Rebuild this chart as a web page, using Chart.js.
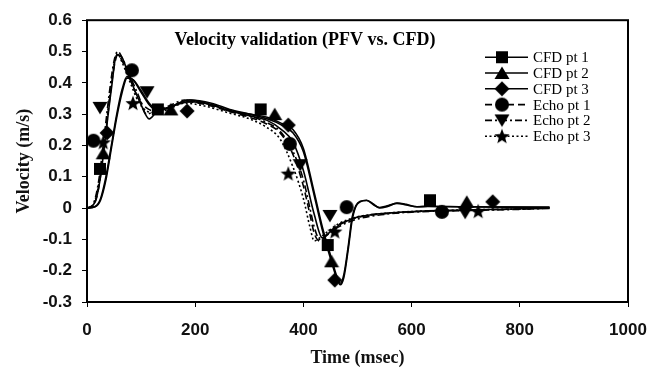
<!DOCTYPE html>
<html>
<head>
<meta charset="utf-8">
<title>Velocity validation (PFV vs. CFD)</title>
<script src="https://cdn.jsdelivr.net/npm/chart.js@4.4.0/dist/chart.umd.min.js"></script>
<style>
  html, body { margin: 0; padding: 0; background: #fff; }
  #wrap { width: 661px; height: 370px; }
</style>
</head>
<body>
<div id="wrap"><canvas id="velChart" width="661" height="370"></canvas></div>
<script>
// values: time in msec, velocity in m/s
const chartTitle = "Velocity validation (PFV vs. CFD)";
const xTitle = "Time (msec)";
const yTitle = "Velocity (m/s)";
const xTicks = [0, 200, 400, 600, 800, 1000];
const yTicks = [-0.3, -0.2, -0.1, 0, 0.1, 0.2, 0.3, 0.4, 0.5, 0.6];

// CFD curves (solid)
const cfdTimes = [0, 15, 25, 35, 45, 55, 65, 74, 85, 100, 115, 130, 150, 190, 230, 264, 300, 333, 360, 381,
  400, 420, 435, 450, 462, 468, 475, 483, 490, 497, 505, 517, 530, 541, 557, 573, 590, 610, 630, 700, 780, 855];
const cfd1 = [0, 0.02, 0.10, 0.24, 0.38, 0.49, 0.48, 0.44, 0.39, 0.33, 0.285, 0.31, 0.32, 0.345, 0.33, 0.31, 0.295, 0.28, 0.25, 0.21,
  0.12, -0.02, -0.095, -0.075, -0.06, -0.05, -0.045, -0.04, -0.035, -0.03, -0.027, -0.024, -0.02, -0.018, -0.016, -0.014, -0.012, -0.01, -0.009, -0.006, -0.003, -0.001];
const cfd2 = [0, 0.004, 0.025, 0.09, 0.19, 0.29, 0.37, 0.415, 0.41, 0.375, 0.335, 0.315, 0.32, 0.345, 0.335, 0.315, 0.30, 0.285, 0.265, 0.24,
  0.18, 0.04, -0.07, -0.16, -0.225, -0.24, -0.21, -0.12, -0.03, 0.008, 0.022, 0.024, 0.01, 0.002, 0.008, 0.015, 0.01, 0.004, 0.005, 0.004, 0.003, 0.002];
const cfd3 = [0, 0.005, 0.03, 0.10, 0.20, 0.30, 0.38, 0.42, 0.41, 0.37, 0.33, 0.31, 0.32, 0.34, 0.33, 0.31, 0.30, 0.29, 0.27, 0.25,
  0.19, 0.05, -0.06, -0.15, -0.22, -0.245, -0.22, -0.13, -0.04, 0.005, 0.02, 0.025, 0.012, 0.0, 0.006, 0.016, 0.012, 0.004, 0.006, 0.004, 0.003, 0.003];

// Echo curves (dashed / dash-dot / dotted)
const echoTimes = [0, 10, 20, 30, 40, 50, 57, 65, 80, 95, 110, 125, 150, 180, 220, 260, 300, 330, 357, 381,
  400, 412, 420, 430, 445, 465, 500, 550, 600, 700, 800, 855];
const echo1 = [0, 0.005, 0.05, 0.17, 0.32, 0.45, 0.49, 0.47, 0.41, 0.35, 0.32, 0.31, 0.32, 0.34, 0.33, 0.31, 0.29, 0.27, 0.24, 0.17,
  0.07, -0.02, -0.08, -0.105, -0.08, -0.055, -0.03, -0.018, -0.012, -0.007, -0.003, 0];
const echo2 = [0, 0.008, 0.07, 0.20, 0.35, 0.47, 0.50, 0.48, 0.42, 0.36, 0.30, 0.31, 0.325, 0.345, 0.335, 0.315, 0.295, 0.275, 0.245, 0.18,
  0.09, 0.0, -0.06, -0.10, -0.085, -0.06, -0.035, -0.02, -0.013, -0.008, -0.004, 0];
const echo3 = [0, 0.006, 0.06, 0.18, 0.33, 0.46, 0.49, 0.465, 0.40, 0.34, 0.31, 0.305, 0.315, 0.335, 0.325, 0.305, 0.285, 0.26, 0.22, 0.13,
  0.03, -0.06, -0.105, -0.095, -0.075, -0.05, -0.028, -0.017, -0.011, -0.006, -0.003, 0];

// marker points
const cfd1MarkT = [24, 131, 321, 445, 634];
const cfd1MarkV = [0.125, 0.315, 0.315, -0.118, 0.025];
const cfd2MarkT = [30, 155, 347, 452, 702];
const cfd2MarkV = [0.175, 0.315, 0.30, -0.17, 0.02];
const cfd3MarkT = [37, 185, 372, 458, 750];
const cfd3MarkV = [0.24, 0.31, 0.265, -0.23, 0.02];
const echo1MarkT = [12, 83, 375, 480, 656];
const echo1MarkV = [0.215, 0.44, 0.205, 0.003, -0.012];
const echo2MarkT = [24, 111, 394, 449, 699];
const echo2MarkV = [0.32, 0.37, 0.137, -0.025, -0.015];
const echo3MarkT = [30, 85, 372, 458, 723];
const echo3MarkV = [0.21, 0.335, 0.11, -0.075, -0.01];

const SERIF = "'Liberation Serif', 'Times New Roman', serif";
const SANS = "'Liberation Sans', Arial, sans-serif";

// filled black marker shapes, used both on the plot and in the legend
function makeMarker(shape) {
  const c = document.createElement("canvas");
  c.width = 16; c.height = 16;
  const g = c.getContext("2d");
  g.fillStyle = "#000";
  g.beginPath();
  if (shape === "square") {
    g.rect(2, 2, 12, 12);
  } else if (shape === "triangle") {
    g.moveTo(8, 1.5); g.lineTo(15.5, 14); g.lineTo(0.5, 14);
  } else if (shape === "diamond") {
    g.moveTo(8, 0.5); g.lineTo(15.5, 8); g.lineTo(8, 15.5); g.lineTo(0.5, 8);
  } else if (shape === "circle") {
    g.arc(8, 8, 7, 0, Math.PI * 2);
  } else if (shape === "down") {
    g.moveTo(0.5, 2); g.lineTo(15.5, 2); g.lineTo(8, 14.5);
  } else if (shape === "star") {
    for (let i = 0; i < 10; i++) {
      const r = i % 2 ? 3.4 : 8;
      const a = -Math.PI / 2 + i * Math.PI / 5;
      const px = 8 + r * Math.cos(a), py = 8.6 + r * Math.sin(a);
      if (i) g.lineTo(px, py); else g.moveTo(px, py);
    }
  }
  g.closePath();
  g.fill();
  return c;
}

const series = [
  { label: "CFD pt 1", t: cfdTimes, v: cfd1, mt: cfd1MarkT, mv: cfd1MarkV, marker: makeMarker("square"), dash: [] },
  { label: "CFD pt 2", t: cfdTimes, v: cfd2, mt: cfd2MarkT, mv: cfd2MarkV, marker: makeMarker("triangle"), dash: [] },
  { label: "CFD pt 3", t: cfdTimes, v: cfd3, mt: cfd3MarkT, mv: cfd3MarkV, marker: makeMarker("diamond"), dash: [] },
  { label: "Echo pt 1", t: echoTimes, v: echo1, mt: echo1MarkT, mv: echo1MarkV, marker: makeMarker("circle"), dash: [7, 4] },
  { label: "Echo pt 2", t: echoTimes, v: echo2, mt: echo2MarkT, mv: echo2MarkV, marker: makeMarker("down"), dash: [7, 3, 2, 3] },
  { label: "Echo pt 3", t: echoTimes, v: echo3, mt: echo3MarkT, mv: echo3MarkV, marker: makeMarker("star"), dash: [2, 2.5] }
];

const toXY = (ts, vs) => ts.map((t, i) => ({ x: t, y: vs[i] }));

const datasets = [];
series.forEach(s => {
  datasets.push({
    label: s.label,
    data: toXY(s.t, s.v),
    borderColor: "#000",
    borderWidth: 1.6,
    borderDash: s.dash,
    pointRadius: 0,
    cubicInterpolationMode: "monotone",
    fill: false,
    order: 1
  });
  datasets.push({
    label: s.label + " markers",
    data: toXY(s.mt, s.mv),
    showLine: false,
    pointStyle: s.marker,
    pointRadius: 7,
    pointBackgroundColor: "#000",
    pointBorderColor: "#000",
    clip: false,
    order: 0
  });
});

// box around the plot, title and legend drawn inside it
const framePlugin = {
  id: "frame",
  beforeDatasetsDraw(chart) {
    const { ctx, chartArea: a } = chart;
    ctx.save();
    ctx.strokeStyle = "#000";
    ctx.lineWidth = 2;
    ctx.strokeRect(a.left, a.top, a.right - a.left, a.bottom - a.top);
    ctx.restore();
  },
  afterDraw(chart) {
    const { ctx, chartArea: a } = chart;
    ctx.save();
    ctx.fillStyle = "#000";
    ctx.font = "bold 18px " + SERIF;
    ctx.textAlign = "center";
    ctx.textBaseline = "middle";
    ctx.fillText(chartTitle, a.left + 218, a.top + 20);

    ctx.font = "15px " + SERIF;
    ctx.textAlign = "left";
    series.forEach((s, i) => {
      const y = a.top + 37 + i * 15.8;
      ctx.strokeStyle = "#000";
      ctx.lineWidth = 1.6;
      ctx.setLineDash(s.dash);
      ctx.beginPath();
      ctx.moveTo(a.left + 398, y);
      ctx.lineTo(a.left + 441, y);
      ctx.stroke();
      ctx.setLineDash([]);
      ctx.drawImage(s.marker, a.left + 415 - 8, y - 8);
      ctx.fillText(s.label, a.left + 446, y + 1);
    });
    ctx.restore();
  }
};

new Chart(document.getElementById("velChart").getContext("2d"), {
  type: "line",
  data: { datasets: datasets },
  options: {
    responsive: false,
    devicePixelRatio: 1,
    animation: false,
    layout: { padding: { top: 20, right: 33, left: 0, bottom: 0 } },
    plugins: {
      legend: { display: false },
      tooltip: { enabled: false }
    },
    scales: {
      x: {
        type: "linear",
        min: 0,
        max: 1000,
        afterFit: scale => { scale.height = 68; },
        afterBuildTicks: scale => { scale.ticks = xTicks.map(v => ({ value: v })); },
        grid: { drawOnChartArea: false, drawTicks: true, tickLength: 5, color: "#000" },
        border: { display: false },
        ticks: {
          padding: 13,
          color: "#111",
          font: { family: SANS, size: 17, weight: "bold" },
          maxRotation: 0,
          callback: v => String(v)
        },
        title: {
          display: true,
          text: xTitle,
          color: "#111",
          font: { family: SERIF, size: 18, weight: "bold" },
          padding: { top: 0, bottom: 1 }
        }
      },
      y: {
        type: "linear",
        min: -0.3,
        max: 0.6,
        afterFit: scale => { scale.width = 87; },
        afterBuildTicks: scale => { scale.ticks = yTicks.map(v => ({ value: v })); },
        grid: { drawOnChartArea: false, drawTicks: true, tickLength: 5, color: "#000" },
        border: { display: false },
        ticks: {
          padding: 10,
          color: "#111",
          font: { family: SANS, size: 17, weight: "bold" },
          callback: v => String(+v.toFixed(1))
        },
        title: {
          display: true,
          text: yTitle,
          color: "#111",
          font: { family: SERIF, size: 18, weight: "bold" },
          padding: { top: 14, bottom: 0 }
        }
      }
    }
  },
  plugins: [framePlugin]
});
</script>
</body>
</html>
